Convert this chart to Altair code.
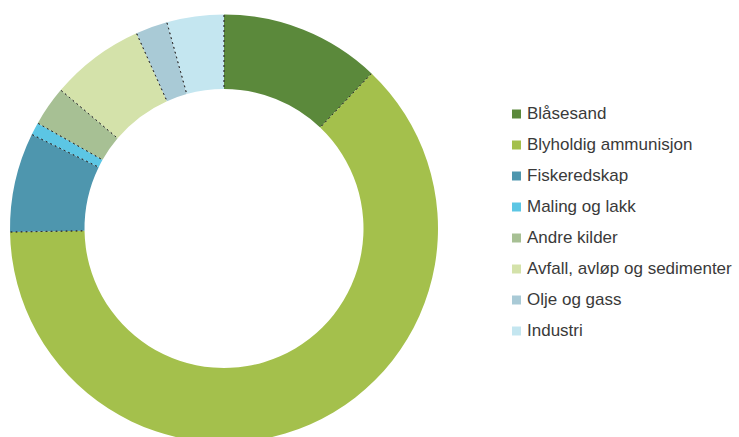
import altair as alt
import pandas as pd

categories = ["Blåsesand", "Blyholdig ammunisjon", "Fiskeredskap", "Maling og lakk",
              "Andre kilder", "Avfall, avløp og sedimenter", "Olje og gass", "Industri"]
values = [12.1, 62.6, 7.5, 0.95, 3.0, 7.1, 2.4, 4.3]
colors = ["#5b893b", "#a4c04c", "#4e96ae", "#5cc6e4", "#a7c094", "#d4e2aa", "#a9cad6", "#c4e6f0"]

total = sum(values)
cum = []
s = 0
for v in values:
    s += v
    cum.append(s)

df = pd.DataFrame({"cat": categories, "value": values, "idx": list(range(len(values))), "cum": cum})

CX, CY, R_OUT, R_IN = 224, 228.5, 214, 139.5

base = alt.Chart(df)

arcs = base.mark_arc(radius=R_OUT, radius2=R_IN, stroke=None).encode(
    x=alt.value(CX), y=alt.value(CY),
    theta=alt.Theta("value:Q", stack=True, scale=alt.Scale(domain=[0, total])),
    order=alt.Order("idx:Q"),
    color=alt.Color("cat:N", sort=categories,
                    scale=alt.Scale(domain=categories, range=colors),
                    legend=alt.Legend(title=None, orient="none", legendX=508, legendY=105.5,
                                      symbolType="square", symbolSize=81, symbolStrokeWidth=0,
                                      labelFontSize=17, labelFont="Liberation Sans",
                                      labelColor="#3a3a3a", rowPadding=13, labelOffset=2,
                                      labelLimit=400)),
)

lines = base.mark_arc(radius=R_OUT - 0.5, radius2=R_IN + 0.5, fillOpacity=0,
                      stroke="#333333", strokeWidth=1, strokeDash=[1.5, 3.5]).encode(
    x=alt.value(CX), y=alt.value(CY),
    theta=alt.Theta("cum:Q", stack=None, scale=alt.Scale(domain=[0, total])),
    theta2="cum:Q",
)

chart = alt.layer(arcs, lines).properties(
    width=739, height=437, autosize=alt.AutoSizeParams(type="none"), padding=0,
).configure_view(stroke=None)

chart.save("out.html", embed_options={"renderer": "svg", "actions": False})
